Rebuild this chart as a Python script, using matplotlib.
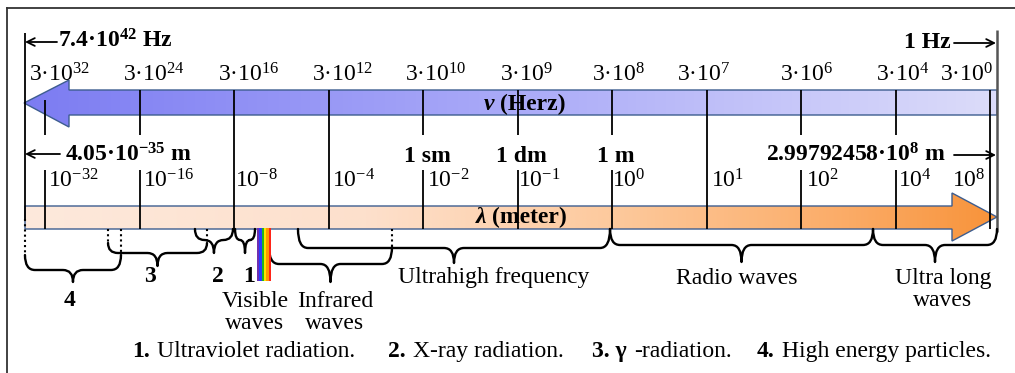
import numpy as np
import matplotlib
matplotlib.use('Agg')
import matplotlib.pyplot as plt
from matplotlib.path import Path
from matplotlib.patches import PathPatch, Polygon
from matplotlib.colors import LinearSegmentedColormap

# ---------------- data ----------------
freq_labels = ['3·10$^{32}$', '3·10$^{24}$', '3·10$^{16}$', '3·10$^{12}$', '3·10$^{10}$',
               '3·10$^{9}$', '3·10$^{8}$', '3·10$^{7}$', '3·10$^{6}$', '3·10$^{4}$', '3·10$^{0}$']
wave_labels = ['10$^{-32}$', '10$^{-16}$', '10$^{-8}$', '10$^{-4}$', '10$^{-2}$',
               '10$^{-1}$', '10$^{0}$', '10$^{1}$', '10$^{2}$', '10$^{4}$', '10$^{8}$']
tick_index = np.arange(len(freq_labels))
long_ticks = [2, 3, 7, 10]
unit_names = ['1 sm', '1 dm', '1 m']
unit_index = [4, 5, 6]
freq_limits = ['7.4·10$^{\\mathbf{42}}$ Hz', '1 Hz']
wave_limits = ['4.05·10$^{\\mathbf{-35}}$ m', '2.99792458·10$^{\\mathbf{8}}$ m']
# spectral bands, in tick-index units
band_names = ['4', '3', '2', '1', 'Infrared\nwaves', 'Ultrahigh frequency',
              'Radio waves', 'Ultra long\nwaves']
band_start = [-0.212, 0.667, 1.587, 2.011, 2.370, 2.677, 5.979, 8.762]
band_end = [0.804, 1.714, 1.989, 2.222, 3.672, 5.979, 8.762, 10.074]
visible_name = 'Visible\nwaves'
visible_start, visible_end = 2.243, 2.392
visible_colors = ['#6f2fb0', '#2a3cff', '#22b422', '#ffe400', '#ff9800', '#ff2418']
legend_nums = ['1.', '2.', '3. γ', '4.']
legend_texts = ['Ultraviolet radiation.', 'X-ray radiation.', '-radiation.', 'High energy particles.']

# ---------------- style ----------------
plt.rcParams['font.family'] = ['Liberation Serif', 'DejaVu Serif']
plt.rcParams['mathtext.fontset'] = 'custom'
plt.rcParams['mathtext.rm'] = 'Liberation Serif'
plt.rcParams['mathtext.it'] = 'Liberation Serif:italic'
plt.rcParams['mathtext.bf'] = 'Liberation Serif:bold'

W, H = 1015, 373
X0, STEP = 45.0, 94.5


def ix(px):
    return (px - X0) / STEP


FS = 17
EDGE = '#3d5d8f'

fig = plt.figure(figsize=(W / 100, H / 100), dpi=100)
ax = fig.add_axes([0, 0, 1, 1])
ax.axis('off')

# frame (top + left)
ax.plot([ix(7), ix(W)], [8, 8], color='#333333', lw=1.3)
ax.plot([ix(7), ix(7)], [8, H], color='#333333', lw=1.3)


def grad_arrow(verts_px, colors):
    verts = [(ix(x), y) for x, y in verts_px]
    poly = Polygon(verts, closed=True, facecolor='none', edgecolor=EDGE, lw=1.0, zorder=3)
    ax.add_patch(poly)
    xs = [v[0] for v in verts]
    ys = [v[1] for v in verts]
    cmap = LinearSegmentedColormap.from_list('g', colors)
    grad = np.linspace(0, 1, 512).reshape(1, -1)
    im = ax.imshow(grad, cmap=cmap, extent=(min(xs), max(xs), max(ys), min(ys)),
                   aspect='auto', zorder=2, interpolation='bilinear')
    im.set_clip_path(poly)


# frequency arrow (points left)
grad_arrow([(24, 103), (69, 80), (69, 90), (997, 90), (997, 115), (69, 115), (69, 127)],
           [(0.0, '#7c7cf2'), (0.5, '#aaaaf8'), (1.0, '#dcdcfa')])
# wavelength arrow (points right)
grad_arrow([(25, 206), (952, 206), (952, 193), (997, 217), (952, 241), (952, 229), (25, 229)],
           [(0.0, '#fde9dc'), (0.35, '#fde0cc'), (0.6, '#fdca9e'), (0.85, '#fbab66'), (1.0, '#f8933a')])

# ticks
for i in tick_index:
    if i in long_ticks:
        ax.vlines(i, 90, 229, color='black', lw=1.3, zorder=4)
    else:
        ax.vlines(i, 100 if i == 0 else 90, 135, color='black', lw=1.3, zorder=4)
        ax.vlines(i, 170, 229, color='black', lw=1.3, zorder=4)

# side limit lines
ax.vlines(ix(25), 33, 219, color='black', lw=1.3, zorder=4)
ax.vlines(ix(997), 30, 232, color='#555555', lw=1.8, zorder=4)

# tick labels
freq_label_x = [60, 154, 249, 343, 436, 526, 619, 704, 807, 903, 967]
for lab, xc in zip(freq_labels, freq_label_x):
    ax.text(ix(xc), 81, lab, ha='center', va='baseline', fontsize=FS)
wave_label_x = [48, 143, 235, 332, 427, 518, 612, 711, 806, 898, 952]
for lab, xl in zip(wave_labels, wave_label_x):
    ax.text(ix(xl), 188, lab, ha='left', va='baseline', fontsize=FS)
for name, i in zip(unit_names, unit_index):
    ax.text(i + ix(X0 + 4), 162, name, ha='center', va='baseline', fontsize=FS, fontweight='bold')

# limit annotations
arrow_kw = dict(arrowstyle='->', lw=1.3, color='black', shrinkA=0, shrinkB=0, mutation_scale=14)
ax.annotate('', xy=(ix(25), 42), xytext=(ix(57), 42), arrowprops=arrow_kw)
ax.text(ix(58), 48, freq_limits[0], ha='left', va='baseline', fontsize=FS, fontweight='bold')
ax.annotate('', xy=(ix(996), 43), xytext=(ix(954), 43), arrowprops=arrow_kw)
ax.text(ix(951), 48, freq_limits[1], ha='right', va='baseline', fontsize=FS, fontweight='bold')
ax.annotate('', xy=(ix(25), 154), xytext=(ix(60), 154), arrowprops=arrow_kw)
ax.text(ix(65), 161, wave_limits[0], ha='left', va='baseline', fontsize=FS, fontweight='bold')
ax.annotate('', xy=(ix(996), 155), xytext=(ix(954), 155), arrowprops=arrow_kw)
ax.text(ix(946), 161, wave_limits[1], ha='right', va='baseline', fontsize=FS, fontweight='bold')

# axis names inside bars
ax.text(ix(489), 110, 'ν', ha='center', va='baseline', fontsize=FS, fontweight='bold',
        fontstyle='italic', zorder=5)
ax.text(ix(500), 110, '(Herz)', ha='left', va='baseline', fontsize=FS, fontweight='bold', zorder=5)
ax.text(ix(481), 223, 'λ', ha='center', va='baseline', fontsize=FS, fontweight='bold',
        fontstyle='italic', zorder=5)
ax.text(ix(492), 223, '(meter)', ha='left', va='baseline', fontsize=FS, fontweight='bold', zorder=5)


# braces
def brace(x0, x1, ytop, ymid, ytip, r_px=10.0):
    xt = (x0 + x1) / 2
    width_px = (x1 - x0) * STEP
    r = min(r_px, width_px / 4) / STEP
    verts = [(x0, ytop), (x0, ymid), (x0 + r, ymid), (xt - r, ymid), (xt, ymid), (xt, ytip),
             (xt, ymid), (xt + r, ymid), (x1 - r, ymid), (x1, ymid), (x1, ytop)]
    codes = [Path.MOVETO, Path.CURVE3, Path.CURVE3, Path.LINETO, Path.CURVE3, Path.CURVE3,
             Path.CURVE3, Path.CURVE3, Path.LINETO, Path.CURVE3, Path.CURVE3]
    ax.add_patch(PathPatch(Path(verts, codes), facecolor='none', edgecolor='black',
                           lw=1.7, capstyle='round', joinstyle='round', zorder=4))


brace_geom = [(255, 270, 282), (243, 253, 266), (229, 240, 253), (229, 240, 253),
              (247, 264, 282), (229, 248, 263), (229, 245, 262), (229, 245, 262)]
for s, e, g in zip(band_start, band_end, brace_geom):
    brace(s, e, *g)

# dotted extensions
dot_kw = dict(color='black', lw=1.5, linestyles=(0, (1, 1.5)), zorder=4)
ax.vlines(ix(25), 219, 255, **dot_kw)
ax.vlines(band_end[0], 229, 255, **dot_kw)
ax.vlines(band_start[1], 229, 243, **dot_kw)
ax.vlines(band_end[1], 229, 243, **dot_kw)
ax.vlines(band_end[4], 229, 247, **dot_kw)

# visible band
vis_edges = np.linspace(visible_start, visible_end, len(visible_colors) + 1)
ax.bar(vis_edges[:-1], 281 - 228, width=np.diff(vis_edges), bottom=228, align='edge',
       color=visible_colors, linewidth=0, zorder=4)

# band labels (y = baseline of the last line)
band_label_pos = [(70, 306), (150, 282), (218, 282), (249, 282), (335, 329),
                  (494, 283), (737, 284), (943, 306)]
for name, (xp, yp) in zip(band_names, band_label_pos):
    bold = name.isdigit()
    ax.text(ix(xp), yp, name, ha='center', va='baseline', fontsize=FS,
            fontweight='bold' if bold else 'normal', linespacing=1.05)
ax.text(ix(255), 329, visible_name, ha='center', va='baseline', fontsize=FS, linespacing=1.05)

# legend line
legend_num_x = [132, 388, 592, 757]
legend_text_x = [157, 413, 634, 782]
for num, txt, xn, xt in zip(legend_nums, legend_texts, legend_num_x, legend_text_x):
    ax.text(ix(xn), 357, num, ha='left', va='baseline', fontsize=FS, fontweight='bold')
    ax.text(ix(xt), 357, txt, ha='left', va='baseline', fontsize=FS)

ax.set_xlim(ix(0), ix(W))
ax.set_ylim(H, 0)
fig.savefig('out.png', dpi=100)
